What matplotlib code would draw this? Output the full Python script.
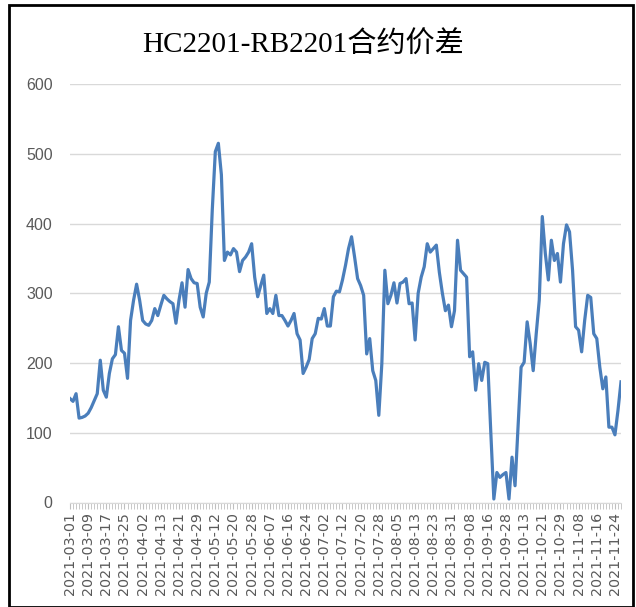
import matplotlib
matplotlib.use("Agg")
import matplotlib.pyplot as plt
import numpy as np
import pandas as pd
from matplotlib.patches import Rectangle

title = "HC2201-RB2201合约价差"

# trading days (SHFE calendar, 2021-03-01 .. 2021-11-26)
holidays = ["2021-04-05", "2021-05-03", "2021-05-04", "2021-05-05", "2021-06-14",
            "2021-09-20", "2021-09-21", "2021-10-01", "2021-10-04", "2021-10-05",
            "2021-10-06", "2021-10-07"]
days = pd.bdate_range("2021-03-01", "2021-11-26")
days = days[~days.isin(pd.to_datetime(holidays))]
dates = [d.strftime("%Y-%m-%d") for d in days]

spread_mar_may = [149, 145, 156, 121, 122, 124, 128, 136, 146, 156,
                  204, 161, 151, 185, 206, 212, 252, 218, 214, 178,
                  261, 290, 313, 290, 261, 256, 254, 261, 278, 268,
                  283, 297, 292, 288, 285, 257, 290, 315, 280, 334,
                  321, 315, 314, 280, 266, 300, 316, 420, 503, 515,
                  470, 347, 359, 355, 364, 359, 331, 347, 352, 359,
                  371]
spread_jun_jul = [323, 295, 311, 326, 271, 278, 271, 297, 268, 268,
                  261, 253, 261, 271, 242, 233, 185, 194, 205, 235,
                  242, 264, 263, 278, 253, 253, 295, 303, 302, 319,
                  340, 364, 381]
spread_aug_nov = [352, 321, 311, 297, 213, 235, 189, 175, 125, 199,
                  333, 285, 297, 315, 286, 314, 316, 321, 285, 286,
                  233, 300, 323, 338, 371, 359, 364, 369, 330, 300,
                  275, 283, 252, 275, 376, 333, 328, 323, 209, 216,
                  161, 199, 175, 201, 199, 100, 5, 43, 36, 40,
                  43, 5, 65, 24, 110, 194, 201, 259, 228, 189,
                  242, 290, 410, 357, 319, 376, 347, 357, 316, 371,
                  398, 388, 333, 252, 247, 216, 261, 297, 294, 242,
                  235, 194, 163, 180, 108, 108, 97, 132, 173]
spread = spread_mar_may + spread_jun_jul + spread_aug_nov
n = min(len(spread), len(dates))
spread = spread[:n]
dates = dates[:n]

yticks = [0, 100, 200, 300, 400, 500, 600]

fig = plt.figure(figsize=(6.36, 6.07), dpi=100)
fig.patch.set_facecolor("white")
ax = fig.add_axes([70 / 636, 1 - 502.5 / 607, 551 / 636, (502.5 - 84) / 607])

x = np.arange(n)
ax.plot(x, spread, color="#4A7EBB", lw=2.3, solid_joinstyle="round", zorder=3)

ax.set_xlim(0, n - 1)
ax.set_ylim(0, 600)
ax.set_yticks(yticks)
ax.set_yticklabels([str(v) for v in yticks], fontsize=11.5,
                   color="#595959", family="Liberation Sans")
ax.grid(axis="y", color="#D9D9D9", lw=1)
ax.set_axisbelow(True)

major = list(range(0, n, 6))
ax.set_xticks(major)
ax.set_xticklabels([dates[i] for i in major], rotation=90, fontsize=10.3,
                   color="#595959", family="DejaVu Sans")
ax.set_xticks(x, minor=True)
ax.tick_params(axis="x", which="both", length=4, color="#BFBFBF", pad=3)
ax.tick_params(axis="y", length=0, pad=12.5)

for s in ["top", "right", "left"]:
    ax.spines[s].set_visible(False)
ax.spines["bottom"].set_color("#D9D9D9")

fig.text(303 / 636, 1 - 45 / 607, title, ha="center", va="center", fontsize=21,
         family=["Liberation Serif", "Noto Sans CJK SC"], color="black")

fig.patches.append(Rectangle((9 / 636, 0.5 / 607), 624 / 636, 1 - 5 / 607,
                             transform=fig.transFigure, fill=False,
                             edgecolor="black", lw=2))

fig.savefig("out.png", dpi=100)
